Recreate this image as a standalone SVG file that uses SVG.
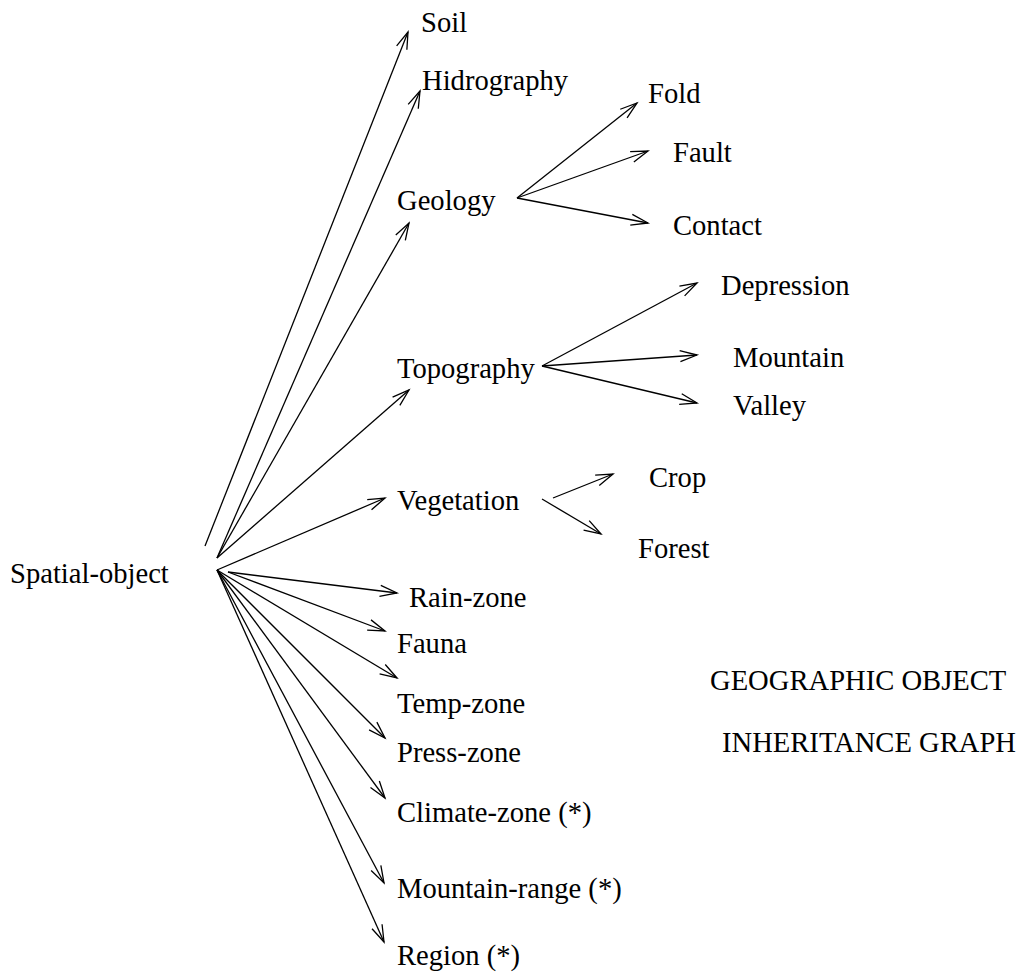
<svg xmlns="http://www.w3.org/2000/svg" width="1027" height="979" viewBox="0 0 1027 979">
<style>
text{font-family:"Liberation Serif","Times New Roman",serif;font-size:28.6px;fill:#000}
.c line{stroke:#000;stroke-width:1.3;fill:none;marker-end:url(#ah)}
</style>
<defs>
<marker id="ah" markerUnits="userSpaceOnUse" viewBox="-18 -7 20 14" refX="0" refY="0" markerWidth="20" markerHeight="14" orient="auto" overflow="visible">
<path d="M-17,-5.5 L0,0 L-17,5.5" fill="none" stroke="#000" stroke-width="1.3"/>
</marker>
</defs>
<rect width="1027" height="979" fill="#fff"/>
<g class="c" id="connectors">
<line x1="205" y1="546" x2="408" y2="32"/>
<line x1="217" y1="558" x2="420" y2="91"/>
<line x1="217" y1="558" x2="409" y2="223"/>
<line x1="217" y1="558" x2="409" y2="390"/>
<line x1="217" y1="570" x2="385" y2="498"/>
<line x1="228" y1="572" x2="397" y2="593"/>
<line x1="228" y1="572" x2="385" y2="631"/>
<line x1="217" y1="570" x2="397" y2="678"/>
<line x1="217" y1="570" x2="385" y2="738"/>
<line x1="217" y1="570" x2="385" y2="798"/>
<line x1="217" y1="570" x2="384" y2="883"/>
<line x1="217" y1="570" x2="384" y2="942"/>
<line x1="517" y1="198" x2="637" y2="103"/>
<line x1="517" y1="198" x2="648" y2="151"/>
<line x1="517" y1="198" x2="648" y2="223"/>
<line x1="542" y1="366" x2="697" y2="283"/>
<line x1="542" y1="366" x2="697" y2="355"/>
<line x1="542" y1="366" x2="697" y2="403"/>
<line x1="553" y1="498" x2="613" y2="474"/>
<line x1="542" y1="499" x2="601" y2="534"/>
</g>
<g id="spatial-object"><text x="10" y="583">Spatial-object</text></g>
<g id="soil"><text x="421" y="32">Soil</text></g>
<g id="hidrography"><text x="422" y="90">Hidrography</text></g>
<g id="geology"><text x="397" y="210">Geology</text></g>
<g id="fold"><text x="648" y="103">Fold</text></g>
<g id="fault"><text x="673" y="162">Fault</text></g>
<g id="contact"><text x="673" y="235">Contact</text></g>
<g id="topography"><text x="397" y="378">Topography</text></g>
<g id="depression"><text x="721" y="295">Depression</text></g>
<g id="mountain"><text x="733" y="367">Mountain</text></g>
<g id="valley"><text x="733" y="415">Valley</text></g>
<g id="vegetation"><text x="397" y="510">Vegetation</text></g>
<g id="crop"><text x="649" y="487">Crop</text></g>
<g id="forest"><text x="638" y="558">Forest</text></g>
<g id="rain-zone"><text x="409" y="607">Rain-zone</text></g>
<g id="fauna"><text x="397" y="653">Fauna</text></g>
<g id="temp-zone"><text x="397" y="713">Temp-zone</text></g>
<g id="press-zone"><text x="397" y="762">Press-zone</text></g>
<g id="climate-zone"><text x="397" y="822">Climate-zone (*)</text></g>
<g id="mountain-range"><text x="397" y="898">Mountain-range (*)</text></g>
<g id="region"><text x="397" y="965">Region (*)</text></g>
<g id="title"><text x="710" y="690">GEOGRAPHIC OBJECT</text><text x="722" y="752">INHERITANCE GRAPH</text></g>
</svg>
